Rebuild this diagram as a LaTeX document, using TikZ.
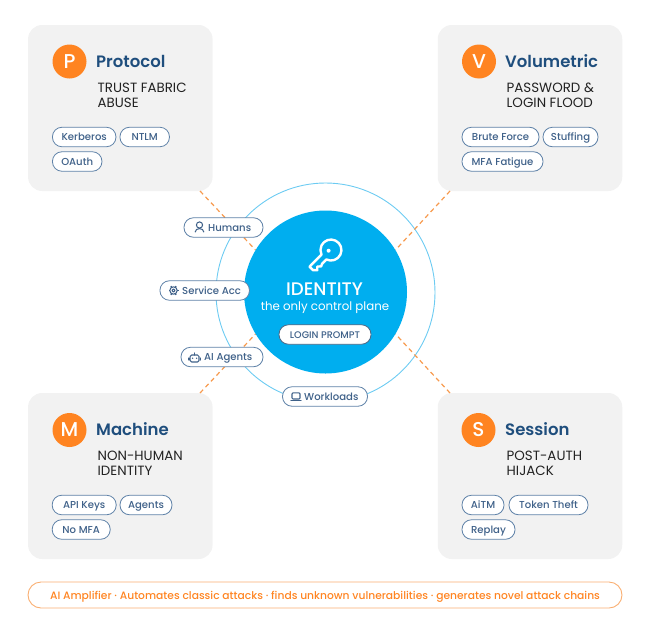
\documentclass[tikz,border=0pt]{standalone}
\usepackage{fontspec}
\setmainfont{Poppins}
\newfontfamily\popm{Poppins Medium}
\newfontfamily\pops{Poppins SemiBold}
\definecolor{cardbg}{HTML}{F2F2F2}
\definecolor{accent}{HTML}{FF8421}
\definecolor{dashc}{HTML}{F79A4E}
\definecolor{sky}{HTML}{00AEEF}
\definecolor{ringc}{HTML}{6CCBF2}
\definecolor{navy}{HTML}{1F4E7D}
\definecolor{pilltx}{HTML}{3F6189}
\definecolor{pilledge}{HTML}{5F82A8}
\definecolor{dark}{HTML}{222222}
\tikzset{
  card/.style={fill=cardbg,rounded corners=14pt,minimum width=184.5pt,minimum height=166pt,inner sep=0pt},
  badge/.style={circle,fill=accent,minimum size=34pt,inner sep=0pt,text=white,font=\popm\fontsize{20}{20}\selectfont},
  cardtitle/.style={anchor=base west,inner sep=0pt,text=navy,font=\pops\fontsize{16.5}{16.5}\selectfont},
  cardsub/.style={anchor=north west,inner sep=0pt,text=dark,align=left,font=\fontsize{13.4}{15}\selectfont},
  pill/.style={draw=pilledge,line width=.8pt,fill=white,rounded corners=9.5pt,inner sep=0pt,minimum height=19.5pt,text=pilltx,font=\popm\fontsize{10.1}{10.1}\selectfont,text height=9.5pt,text depth=2.2pt},
  plabel/.style={inner sep=0pt,text=pilltx,font=\popm\fontsize{10.1}{10.1}\selectfont,text height=9.5pt,text depth=2.2pt},
  icon/.style={draw=pilltx,line width=1.05pt,line join=round,line cap=round,fill=none},
  attack/.style={draw=dashc,line width=1.2pt,dash pattern=on 4.5pt off 3.5pt},
}
\begin{document}
\begin{tikzpicture}[x=1pt,y=-1pt]
\useasboundingbox (0,0) rectangle (650,632);
% hub
\node[circle,draw=ringc,line width=.9pt,minimum size=219pt,inner sep=0pt] (ring) at (325.5,292.5) {};
\node[circle,minimum size=163pt,inner sep=0pt] (disk) at (325.5,292) {};
% cards
\node[card] (cardP) at (120.3,108) {};
\node[card] (cardV) at (530,108) {};
\node[card] (cardM) at (120.3,476) {};
\node[card] (cardS) at (530,476) {};
% connector ends on the cards
\coordinate (endP) at (200,191);
\coordinate (endV) at (450,191);
\coordinate (endM) at (200,393);
\coordinate (endS) at (450,393);
\draw[attack] (endP) -- (disk.149);
\draw[attack] (endV) -- (disk.31);
\draw[attack] (endM) -- (disk.211);
\draw[attack] (endS) -- (disk.329);
\fill[sky] (disk.center) circle[radius=81.5pt];
% key icon
\begin{scope}[shift={(331,250)},rotate=225,x=1pt,y=1pt]
  \draw[white,line width=2.4pt,line join=round] (10,3.4) arc[start angle=19,end angle=341,radius=10.5pt] -- (27,-3.4) -- (27,1.5) -- (24,4.6) -- (21.5,2) -- (18.5,4.6) -- (16,3.4) -- cycle;
  \fill[white] (2.2,-1.2) circle[radius=2pt];
\end{scope}
\node[inner sep=0pt,text=white,font=\popm\fontsize{18.2}{18.2}\selectfont] (idt) at (324.5,289.5) {IDENTITY};
\node[inner sep=0pt,text=white,font=\fontsize{11.8}{11.8}\selectfont] (ids) at (325,308) {the only control plane};
\node[pill,minimum width=92pt,draw=pilledge!80!black,font=\popm\fontsize{9.6}{9.6}\selectfont] (login) at (325,334.5) {LOGIN PROMPT};
% cards content
\node[badge] (bP) at (69.5,61.5) {P};
\node[badge] (bV) at (479,61.5) {V};
\node[badge] (bM) at (69.5,430) {M};
\node[badge] (bS) at (478.5,430) {S};
\node[cardtitle] (tP) at (96,67) {Protocol};
\node[cardtitle] (tV) at (505,67) {Volumetric};
\node[cardtitle] (tM) at (96,435) {Machine};
\node[cardtitle] (tS) at (505,435) {Session};
\node[cardsub] (sP) at (97.5,83) {TRUST FABRIC\\ABUSE};
\node[cardsub] (sV) at (506.5,83) {PASSWORD \&\\LOGIN FLOOD};
\node[cardsub] (sM) at (97.5,451) {NON-HUMAN\\IDENTITY};
\node[cardsub] (sS) at (506.5,451) {POST-AUTH\\HIJACK};
% card pills
\node[pill,minimum width=63.5pt] (p1) at (84.2,137) {Kerberos};
\node[pill,minimum width=49.5pt] (p2) at (144.7,137) {NTLM};
\node[pill,minimum width=49.5pt] (p3) at (77.2,161.5) {OAuth};
\node[pill,minimum width=77pt] (v1) at (500.5,137) {Brute Force};
\node[pill,minimum width=55pt] (v2) at (570.5,137) {Stuffing};
\node[pill,minimum width=81pt] (v3) at (502.5,161.5) {MFA Fatigue};
\node[pill,minimum width=64pt] (m1) at (84.2,505) {API Keys};
\node[pill,minimum width=52pt] (m2) at (146,505) {Agents};
\node[pill,minimum width=58pt] (m3) at (81.2,529.5) {No MFA};
\node[pill,minimum width=42pt] (s1) at (483,505) {AiTM};
\node[pill,minimum width=79pt] (s2) at (548.5,505) {Token Theft};
\node[pill,minimum width=53pt] (s3) at (488.5,529.5) {Replay};
% hub pills
\node[pill,minimum width=79pt] (hum) at (223.5,227.5) {};
\node[plabel,anchor=west] (humT) at (208,227.5) {Humans};
\node[pill,minimum width=89.5pt] (svc) at (204.7,290.5) {};
\node[plabel,anchor=west] (svcT) at (182,290.5) {Service Acc};
\node[pill,minimum width=82pt] (ai) at (222,357) {};
\node[plabel,anchor=west] (aiT) at (204,357) {AI Agents};
\node[pill,minimum width=85pt] (wrk) at (325,396.5) {};
\node[plabel,anchor=west] (wrkT) at (304,396.5) {Workloads};
% person icon
\draw[icon] (199.5,225) circle[radius=3.1pt];
\draw[icon] (195.2,232) .. controls (195.2,227.5) and (203.8,227.5) .. (203.8,232);
% gear icon
\draw[icon] (173.5,290.5) circle[radius=1.6pt];
\draw[icon] (173.5,290.5) circle[radius=3.7pt];
\foreach \a in {0,60,...,300} \draw[icon,line width=1.5pt,line cap=butt] (173.5,290.5) ++(\a:3.6) -- ++(\a:1.4);
% robot icon
\draw[icon,rounded corners=1.5pt] (190.2,355) rectangle (199,362);
\draw[icon] (194.6,355) -- (194.6,352.8);
\draw[icon] (189,358) -- (189,360);
\draw[icon] (200.2,358) -- (200.2,360);
\fill[pilltx] (192.6,358.2) circle[radius=.8pt];
\fill[pilltx] (196.6,358.2) circle[radius=.8pt];
% laptop icon
\draw[icon,rounded corners=1pt] (292,392.8) rectangle (300,399);
\draw[icon] (290.8,400.8) -- (301,400.8);
% amplifier
\node[draw=dashc!80,line width=.9pt,rounded corners=13pt,minimum width=594pt,minimum height=26pt,inner sep=0pt,text=accent,font=\popm\fontsize{10.7}{10.7}\selectfont,text height=11pt,text depth=2.5pt] (amp) at (325,595) {AI Amplifier · Automates classic attacks · finds unknown vulnerabilities · generates novel attack chains};
\end{tikzpicture}
\end{document}
